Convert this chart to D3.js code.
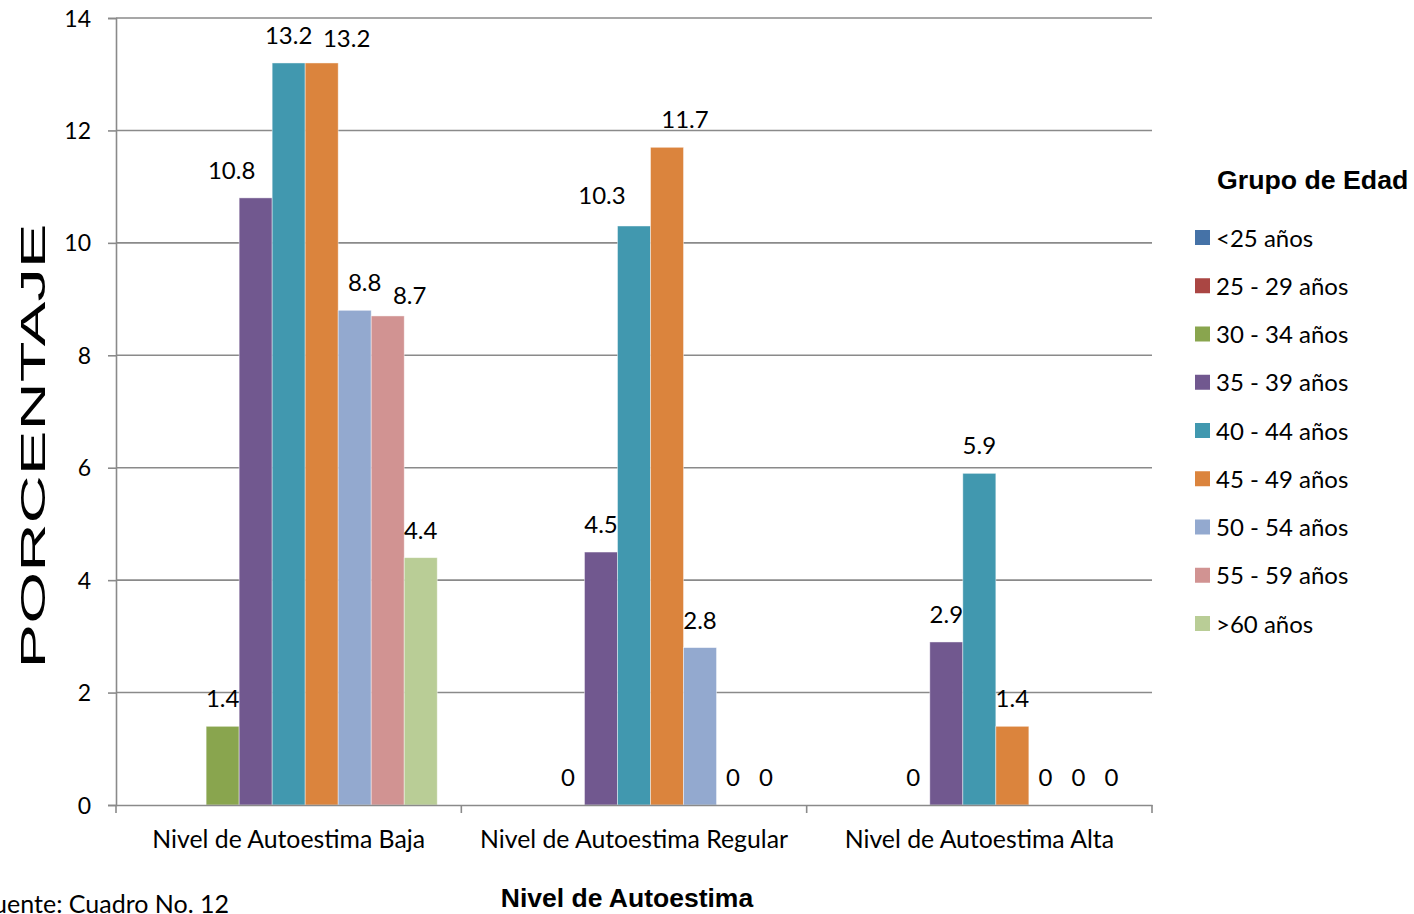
<!DOCTYPE html>
<html>
<head>
<meta charset="utf-8">
<script src="https://cdn.jsdelivr.net/npm/d3@7"></script>
<style>
  html, body { margin: 0; padding: 0; background: #fff; }
  svg { display: block; }
  text { font-family: Lato, "Open Sans", sans-serif; fill: #000; }
</style>
</head>
<body>
<svg id="chart" width="1414" height="914"></svg>
<script>
// ---- data ----
const categories = ["Nivel de Autoestima Baja", "Nivel de Autoestima Regular", "Nivel de Autoestima Alta"];
const seriesNames = ["<25 años", "25 - 29 años", "30 - 34 años", "35 - 39 años", "40 - 44 años",
                     "45 - 49 años", "50 - 54 años", "55 - 59 años", ">60 años"];
const vals_lt25   = [null, null, null];
const vals_25_29  = [null, null, null];
const vals_30_34  = [1.4, 0, 0];
const vals_35_39  = [10.8, 4.5, 2.9];
const vals_40_44  = [13.2, 10.3, 5.9];
const vals_45_49  = [13.2, 11.7, 1.4];
const vals_50_54  = [8.8, 2.8, 0];
const vals_55_59  = [8.7, 0, 0];
const vals_gt60   = [4.4, 0, 0];
const yTicks = [0, 2, 4, 6, 8, 10, 12, 14];

const seriesValues = [vals_lt25, vals_25_29, vals_30_34, vals_35_39, vals_40_44,
                      vals_45_49, vals_50_54, vals_55_59, vals_gt60];
const colors = ["#4572A7", "#AA4643", "#89A54E", "#71588F", "#4198AF",
                "#DB843D", "#93A9CF", "#D19392", "#B9CD96"];
// manual label nudges (as in the original, where labels were dragged): "category-series" -> [dx, dy]
const labelNudge = {
  "0-3": [-24, 0], "0-5": [25, 3], "0-6": [10, 0], "0-7": [22, 7],
  "1-4": [-32, -3], "1-5": [18, 0]
};

// ---- layout ----
const svg = d3.select("#chart");
const mLeft = 116, mRight = 1152, mTop = 18, mBottom = 805;

const x0 = d3.scaleBand().domain(categories).range([mLeft, mRight]).padding(0);
const x1 = d3.scaleBand().domain(seriesNames).range([0, x0.bandwidth()])
             .paddingInner(0).paddingOuter(0.73);
const y = d3.scaleLinear().domain([0, 14]).range([mBottom, mTop]);

// gridlines
svg.append("g").selectAll("line").data(yTicks.filter(d => d > 0)).join("line")
  .attr("x1", mLeft).attr("x2", mRight)
  .attr("y1", d => y(d)).attr("y2", d => y(d))
  .attr("stroke", "#8a8a8a").attr("stroke-width", 1.6);

// bars
const rows = [];
categories.forEach((c, ci) => {
  seriesNames.forEach((s, si) => {
    rows.push({ c, ci, s, si, v: seriesValues[si][ci] });
  });
});

svg.append("g").selectAll("rect").data(rows.filter(d => d.v !== null && d.v > 0)).join("rect")
  .attr("x", d => x0(d.c) + x1(d.s))
  .attr("width", x1.bandwidth())
  .attr("y", d => y(d.v))
  .attr("height", d => y(0) - y(d.v))
  .attr("fill", d => colors[d.si])
  .attr("stroke", "#ffffff").attr("stroke-opacity", 0.55).attr("stroke-width", 0.8);

// y axis
const yAxis = d3.axisLeft(y).tickValues(yTicks).tickSize(8).tickPadding(17).tickFormat(d3.format("d"));
const gy = svg.append("g").attr("transform", `translate(${mLeft},0)`).call(yAxis);
gy.select(".domain").attr("stroke", "#8a8a8a").attr("stroke-width", 1.6);
gy.selectAll(".tick line").attr("stroke", "#8a8a8a").attr("stroke-width", 1.6);
gy.selectAll(".tick text").style("font-family", "Lato, sans-serif").style("font-size", "23px")
  .attr("fill", "#000").attr("dy", "0.35em");

// x axis
const gx = svg.append("g").attr("transform", `translate(0,${mBottom})`).call(
  d3.axisBottom(x0).tickSize(0).tickPadding(26)
);
gx.select(".domain").attr("stroke", "#8a8a8a").attr("stroke-width", 1.6);
gx.selectAll(".tick text").style("font-family", "Lato, sans-serif").style("font-size", "24.8px")
  .attr("fill", "#000").attr("dy", "0.7em");
// category separator ticks
const sepX = categories.map(c => x0(c)).concat([x0(categories[categories.length - 1]) + x0.bandwidth()]);
svg.append("g").selectAll("line").data(sepX).join("line")
  .attr("x1", d => d).attr("x2", d => d)
  .attr("y1", mBottom).attr("y2", mBottom + 8)
  .attr("stroke", "#8a8a8a").attr("stroke-width", 1.6);

// data labels
svg.append("g").selectAll("text").data(rows.filter(d => d.v !== null)).join("text")
  .attr("x", d => x0(d.c) + x1(d.s) + x1.bandwidth() / 2 + ((labelNudge[d.ci + "-" + d.si] || [0, 0])[0]))
  .attr("y", d => y(d.v) - 19 + ((labelNudge[d.ci + "-" + d.si] || [0, 0])[1]))
  .attr("text-anchor", "middle")
  .style("font-size", "24px")
  .text(d => d.v);

// y axis title
svg.append("text")
  .attr("transform", "translate(45,446) rotate(-90)")
  .attr("text-anchor", "middle")
  .attr("textLength", 445).attr("lengthAdjust", "spacingAndGlyphs")
  .style("font-family", "'Liberation Sans', Arial, sans-serif")
  .style("font-size", "35px")
  .text("PORCENTAJE");

// x axis title
svg.append("text")
  .attr("x", 627).attr("y", 907)
  .attr("text-anchor", "middle")
  .style("font-family", "'Liberation Sans', Arial, sans-serif")
  .style("font-weight", "bold")
  .style("font-size", "26.5px")
  .text("Nivel de Autoestima");

// source note (cut off on the left as in the original)
svg.append("text")
  .attr("x", 229).attr("y", 913)
  .attr("text-anchor", "end")
  .style("font-size", "25px")
  .text("Fuente: Cuadro No. 12");

// legend
const legend = svg.append("g");
legend.append("text")
  .attr("x", 1217).attr("y", 189)
  .style("font-family", "'Liberation Sans', Arial, sans-serif")
  .style("font-weight", "bold")
  .style("font-size", "26.7px")
  .text("Grupo de Edad");
const items = legend.selectAll("g.item").data(seriesNames).join("g")
  .attr("class", "item")
  .attr("transform", (d, i) => `translate(1195,${238 + i * 48.25})`);
items.append("rect").attr("x", 0).attr("y", -8).attr("width", 15).attr("height", 15)
  .attr("fill", (d, i) => colors[i]);
items.append("text").attr("x", 21).attr("y", 8.5)
  .style("font-size", "24px")
  .text(d => d);
</script>
</body>
</html>
